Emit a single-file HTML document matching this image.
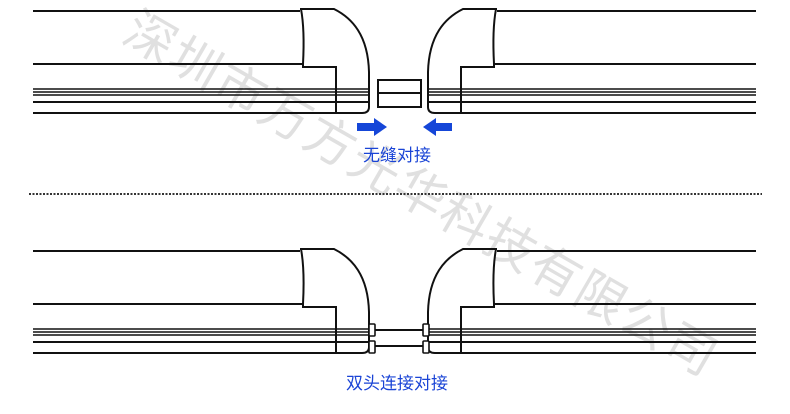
<!DOCTYPE html>
<html><head><meta charset="utf-8"><style>
html,body{margin:0;padding:0;background:#fff;}
svg{display:block;}
</style></head><body>
<svg width="790" height="414" viewBox="0 0 790 414" xmlns="http://www.w3.org/2000/svg">
<defs>
<g id="capL" fill="none" stroke="#111" stroke-width="2">
  <path d="M300,9 L334,9 C352,18 368,35 369,72 L369,107 Q369,113 362,113"/>
  <path d="M301,9 C304,25 304,45 303,64 L303,67 L336,67 L336,113"/>
  <line x1="33" y1="11" x2="300" y2="11"/>
  <line x1="33" y1="64" x2="303" y2="64"/>
  <line x1="33" y1="89" x2="368" y2="89" stroke-width="1.6"/>
  <line x1="33" y1="92" x2="368" y2="92" stroke-width="1.6"/>
  <line x1="33" y1="95" x2="368" y2="95" stroke-width="1.6"/>
  <line x1="33" y1="102" x2="368" y2="102"/>
  <line x1="33" y1="113" x2="362" y2="113"/>
</g>
<g id="capR" fill="none" stroke="#111" stroke-width="2">
  <path d="M497,9 L463,9 C445,18 429,35 428,72 L428,107 Q428,113 435,113"/>
  <path d="M496,9 C493,25 493,45 494,64 L494,67 L461,67 L461,113"/>
  <line x1="497" y1="11" x2="756" y2="11"/>
  <line x1="494" y1="64" x2="756" y2="64"/>
  <line x1="429" y1="89" x2="756" y2="89" stroke-width="1.6"/>
  <line x1="429" y1="92" x2="756" y2="92" stroke-width="1.6"/>
  <line x1="429" y1="95" x2="756" y2="95" stroke-width="1.6"/>
  <line x1="429" y1="102" x2="756" y2="102"/>
  <line x1="435" y1="113" x2="756" y2="113"/>
</g>
</defs>

<text x="120" y="40" transform="rotate(30 120 40)" font-family="Liberation Sans, 'Noto Sans CJK SC', sans-serif" font-size="50" fill="#e0e0e0" letter-spacing="2">深圳市万方光华科技有限公司</text>

<use href="#capL"/>
<use href="#capR"/>
<rect x="378" y="80" width="43" height="27" fill="none" stroke="#111" stroke-width="2"/>
<line x1="378" y1="93" x2="421" y2="93" stroke="#111" stroke-width="2"/>
<path d="M357,123 L374,123 L374,118 L387,127 L374,136 L374,131 L357,131 Z" fill="#1546d8"/>
<path d="M452,123 L436,123 L436,118 L423,127 L436,136 L436,131 L452,131 Z" fill="#1546d8"/>
<text x="397" y="161" text-anchor="middle" font-family="Liberation Sans, 'Noto Sans CJK SC', sans-serif" font-size="17" fill="#1a44d6">无缝对接</text>

<line x1="29" y1="194" x2="762" y2="194" stroke="#333" stroke-width="2" stroke-dasharray="2,1.5"/>

<g transform="translate(0,240)">
<use href="#capL"/>
<use href="#capR"/>
</g>
<g fill="#fff" stroke="#111" stroke-width="1.6">
  <rect x="369" y="324" width="6" height="12" rx="1"/>
  <rect x="369" y="341" width="6" height="12" rx="1"/>
  <rect x="423" y="324" width="6" height="12" rx="1"/>
  <rect x="423" y="341" width="6" height="12" rx="1"/>
</g>
<line x1="375" y1="330" x2="423" y2="330" stroke="#111" stroke-width="2"/>
<line x1="375" y1="346" x2="423" y2="346" stroke="#111" stroke-width="2"/>
<text x="397" y="389" text-anchor="middle" font-family="Liberation Sans, 'Noto Sans CJK SC', sans-serif" font-size="17" fill="#1a44d6">双头连接对接</text>
</svg>
</body></html>
